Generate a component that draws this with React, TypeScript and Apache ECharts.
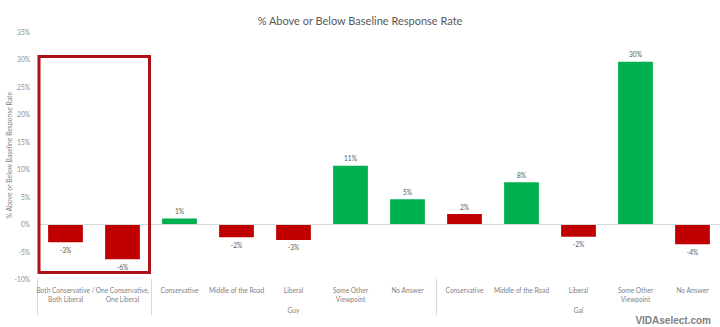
import React, { useEffect, useRef } from "react";
import * as echarts from "echarts";

const categories = [
  "Both Conservative /\nBoth Liberal",
  "One Conservative,\nOne Liberal",
  "Conservative",
  "Middle of the Road",
  "Liberal",
  "Some Other\nViewpoint",
  "No Answer",
  "Conservative",
  "Middle of the Road",
  "Liberal",
  "Some Other\nViewpoint",
  "No Answer",
];
const values = [-3.3, -6.4, 1.0, -2.4, -2.9, 10.6, 4.5, 1.8, 7.6, -2.3, 29.5, -3.7];
const barTone = ["neg", "neg", "pos", "neg", "neg", "pos", "pos", "neg", "pos", "neg", "pos", "neg"];
const groupLabels = ["", "", "", "", "Guy", "", "", "", "", "Gal", "", ""];
const groupBoundaries = [0, 2, 7];
const yTicks = { min: -10, max: 35, step: 5 };
const titleText = "% Above or Below Baseline Response Rate";
const yAxisTitle = "% Above or Below Baseline Response Rate";

const GREEN = "#00B050";
const RED = "#C00000";
const FONT = "Lato, 'Open Sans', sans-serif";

export default function App() {
  const ref = useRef<HTMLDivElement>(null);
  useEffect(() => {
    if (!ref.current) return;
    const chart = echarts.init(ref.current, null, { renderer: "svg" });
    chart.setOption({
      animation: false,
      backgroundColor: "#ffffff",
      textStyle: { fontFamily: FONT },
      title: {
        text: titleText,
        left: "center",
        top: 10,
        textStyle: { fontSize: 11, fontWeight: "normal", color: "#595959", fontFamily: FONT },
      },
      grid: {
        left: 37,
        right: -1,
        top: 31.5,
        bottom: 48,
        containLabel: false,
        outerBoundsMode: "none",
      },
      xAxis: [
        {
          type: "category",
          data: categories,
          position: "bottom",
          axisLine: { show: false },
          axisTick: { show: false },
          axisLabel: {
            interval: 0,
            fontSize: 6.6,
            lineHeight: 9,
            color: "#7f7f7f",
            margin: 6,
            fontFamily: FONT,
          },
        },
        {
          type: "category",
          data: categories,
          position: "bottom",
          axisLine: { show: false },
          axisTick: {
            show: true,
            length: 36,
            interval: (index: number) => groupBoundaries.includes(index),
            lineStyle: { color: "#d9d9d9", width: 1 },
          },
          axisLabel: {
            interval: 0,
            fontSize: 6.6,
            color: "#7f7f7f",
            margin: 27,
            fontFamily: FONT,
            formatter: (_v: string, i: number) => groupLabels[i],
          },
        },
      ],
      yAxis: {
        type: "value",
        min: yTicks.min,
        max: yTicks.max,
        interval: yTicks.step,
        name: yAxisTitle,
        nameLocation: "middle",
        nameGap: 24.5,
        nameMoveOverlap: false,
        nameTextStyle: { fontSize: 6.8, color: "#7f7f7f", fontFamily: FONT },
        axisLine: { show: false },
        axisTick: { show: false },
        splitLine: { show: false },
        axisLabel: {
          fontSize: 6.6,
          color: "#8c8c8c",
          margin: 7,
          fontFamily: FONT,
          formatter: "{value}%",
        },
      },
      series: [
        {
          type: "bar",
          xAxisIndex: 0,
          barWidth: "61%",
          data: values.map((v, i) => ({
            value: v,
            itemStyle: { color: barTone[i] === "pos" ? GREEN : RED },
            label: { position: v >= 0 ? "top" : "bottom" },
          })),
          label: {
            show: true,
            fontSize: 6.6,
            color: "#595959",
            distance: 4,
            fontFamily: FONT,
            formatter: (p: any) => `${Math.round(p.value)}%`,
          },
          markLine: {
            silent: true,
            symbol: "none",
            label: { show: false },
            lineStyle: { color: "#d9d9d9", type: "solid", width: 1 },
            data: [{ yAxis: 0 }],
          },
        },
      ],
      graphic: [
        {
          type: "rect",
          shape: { x: 39, y: 56.5, width: 110.5, height: 216 },
          style: { fill: "none", stroke: "#B0101A", lineWidth: 3 },
          z: 100,
        },
        {
          type: "text",
          right: 9,
          bottom: 2,
          style: {
            text: "VIDAselect.com",
            fontSize: 10,
            fontFamily: "'Liberation Sans', Arial, sans-serif",
            fill: "#7f7f7f",
            fontWeight: "bold",
          },
        },
      ],
    });
    return () => chart.dispose();
  }, []);
  return <div ref={ref} style={{ width: 720, height: 327, position: "absolute", left: 0, top: 0 }} />;
}
